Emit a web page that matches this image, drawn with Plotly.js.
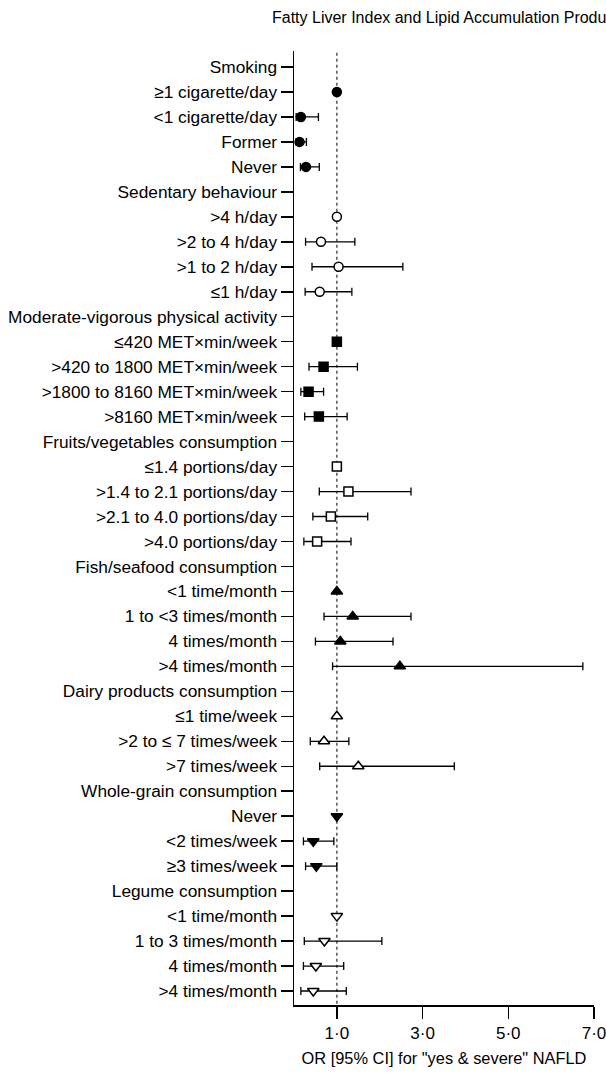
<!DOCTYPE html>
<html>
<head>
<meta charset="utf-8">
<script src="https://cdn.plot.ly/plotly-3.0.1.min.js"></script>
<style>html,body{margin:0;padding:0;background:#fff;}#chart{width:606px;height:1073px;}</style>
</head>
<body>
<div id="chart"></div>
<script>
// Row labels (top to bottom)
const labels = [
  "Smoking", "≥1 cigarette/day", "<1 cigarette/day", "Former", "Never",
  "Sedentary behaviour", ">4 h/day", ">2 to 4 h/day", ">1 to 2 h/day", "≤1 h/day",
  "Moderate-vigorous physical activity", "≤420 MET×min/week", ">420 to 1800 MET×min/week", ">1800 to 8160 MET×min/week", ">8160 MET×min/week",
  "Fruits/vegetables consumption", "≤1.4 portions/day", ">1.4 to 2.1 portions/day", ">2.1 to 4.0 portions/day", ">4.0 portions/day",
  "Fish/seafood consumption", "<1 time/month", "1 to <3 times/month", "4 times/month", ">4 times/month",
  "Dairy products consumption", "≤1 time/week", ">2 to ≤ 7 times/week", ">7 times/week",
  "Whole-grain consumption", "Never", "<2 times/week", "≥3 times/week",
  "Legume consumption", "<1 time/month", "1 to 3 times/month", "4 times/month", ">4 times/month"
];
// Group of each row (header rows have no marker)
const groups = [
  "", "smoking", "smoking", "smoking", "smoking",
  "", "sedentary", "sedentary", "sedentary", "sedentary",
  "", "mvpa", "mvpa", "mvpa", "mvpa",
  "", "fruit", "fruit", "fruit", "fruit",
  "", "fish", "fish", "fish", "fish",
  "", "dairy", "dairy", "dairy",
  "", "grain", "grain", "grain",
  "", "legume", "legume", "legume", "legume"
];
// Odds ratios and 95% CI
const orVals = [
  null, 1.00, 0.16, 0.13, 0.28,
  null, 1.00, 0.63, 1.04, 0.60,
  null, 1.00, 0.69, 0.34, 0.58,
  null, 1.00, 1.27, 0.86, 0.54,
  null, 1.00, 1.37, 1.08, 2.47,
  null, 1.00, 0.70, 1.50,
  null, 1.00, 0.45, 0.52,
  null, 1.00, 0.71, 0.51, 0.45
];
const ciLow = [
  null, null, 0.05, 0.05, 0.15,
  null, null, 0.27, 0.42, 0.26,
  null, null, 0.35, 0.16, 0.25,
  null, null, 0.59, 0.44, 0.23,
  null, null, 0.70, 0.50, 0.90,
  null, null, 0.38, 0.60,
  null, null, 0.22, 0.27,
  null, null, 0.24, 0.22, 0.16
];
const ciHigh = [
  null, null, 0.57, 0.29, 0.59,
  null, null, 1.42, 2.54, 1.35,
  null, null, 1.48, 0.69, 1.24,
  null, null, 2.73, 1.72, 1.33,
  null, null, 2.73, 2.31, 6.74,
  null, null, 1.28, 3.74,
  null, null, 0.93, 1.00,
  null, null, 2.05, 1.16, 1.22
];
const xTickVals = [1, 3, 5, 7];
const xTickText = ["1·0", "3·0", "5·0", "7·0"];

const styles = {
  smoking:   {symbol: "circle",             fill: "#000", size: 9},
  sedentary: {symbol: "circle",             fill: "#fff", size: 9},
  mvpa:      {symbol: "square",             fill: "#000", size: 9},
  fruit:     {symbol: "square",             fill: "#fff", size: 9},
  fish:      {symbol: "triangle-up",        fill: "#000", size: 10},
  dairy:     {symbol: "triangle-up",        fill: "#fff", size: 10},
  grain:     {symbol: "triangle-down",      fill: "#000", size: 10},
  legume:    {symbol: "triangle-down",      fill: "#fff", size: 10}
};

const rows = labels.map((_, i) => i + 1);
const traces = [];
Object.keys(styles).forEach(g => {
  const idx = rows.map(r => r - 1).filter(i => groups[i] === g);
  const st = styles[g];
  traces.push({
    type: "scatter", mode: "markers",
    x: idx.map(i => orVals[i]),
    y: idx.map(i => rows[i]),
    error_x: {
      type: "data", symmetric: false, visible: true,
      array: idx.map(i => ciHigh[i] == null ? NaN : ciHigh[i] - orVals[i]),
      arrayminus: idx.map(i => ciLow[i] == null ? NaN : orVals[i] - ciLow[i]),
      color: "#000", thickness: 1.3, width: 4
    },
    marker: {symbol: st.symbol, size: st.size, color: st.fill, line: {color: "#000", width: 1.5}},
    hoverinfo: "skip", showlegend: false, cliponaxis: false
  });
});

const font = "Liberation Sans, Arial, sans-serif";
const layout = {
  width: 606, height: 1073,
  margin: {l: 294, r: 12, t: 51, b: 68},
  paper_bgcolor: "#fff", plot_bgcolor: "#fff",
  font: {family: font, color: "#000", size: 17},
  title: {text: "Fatty Liver Index and Lipid Accumulation Product", xref: "container", yref: "container",
          x: 272/606, xanchor: "left", y: 1 - 17/1073, yanchor: "middle",
          font: {family: font, size: 16, color: "#000"}},
  xaxis: {
    range: [0, 7], showgrid: false, zeroline: false,
    showline: true, linecolor: "#000", linewidth: 1.5,
    ticks: "outside", ticklen: 12, tickwidth: 1.5, tickcolor: "#000",
    tickvals: xTickVals, ticktext: xTickText, ticklabeloverflow: "allow",
    tickfont: {family: font, size: 17},
    title: {text: "OR [95% CI] for \"yes & severe\" NAFLD", font: {family: font, size: 16.4}, standoff: 10}
  },
  yaxis: {
    range: [38.56, 0.36], showgrid: false, zeroline: false,
    showline: true, linecolor: "#000", linewidth: 1.5,
    ticks: "outside", ticklen: 12, tickwidth: 1.5, tickcolor: "#000",
    tickvals: rows, ticktext: labels,
    tickfont: {family: font, size: 17.3}
  },
  shapes: [{
    type: "line", xref: "x", yref: "paper", x0: 1, x1: 1, y0: -0.005, y1: 1,
    line: {color: "#555", width: 1.5, dash: "dot"}, layer: "below"
  }]
};

Plotly.newPlot("chart", traces, layout, {displayModeBar: false, staticPlot: true});
</script>
</body>
</html>
